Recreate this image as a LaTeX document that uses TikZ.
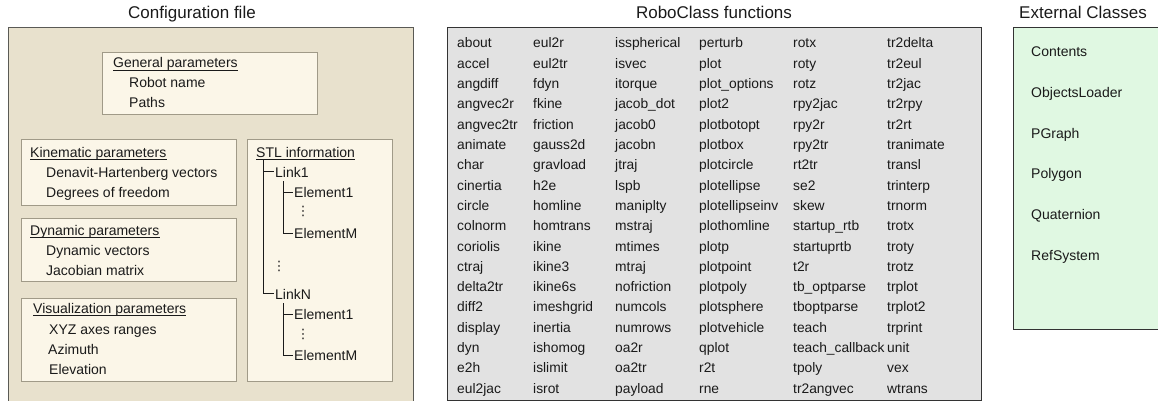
\documentclass[tikz,border=0pt]{standalone}
\usepackage{fontspec}
\setmainfont{Liberation Sans}
\newfontfamily\dejavu{DejaVu Sans}
\definecolor{cfgfill}{HTML}{E8E1CD}
\definecolor{cfgline}{HTML}{5A5A55}
\definecolor{inner}{HTML}{FBF6E8}
\definecolor{innerline}{HTML}{A09A88}
\definecolor{grayfill}{HTML}{E2E2E2}
\definecolor{grayline}{HTML}{333333}
\definecolor{greenfill}{HTML}{E0F8E2}
\definecolor{txt}{HTML}{1A1A1A}
\begin{document}
\begin{tikzpicture}[x=1pt,y=-1pt,
  every node/.style={text=txt},
  title/.style={font=\fontsize{17}{20}\selectfont, anchor=base},
  lbl/.style={font=\fontsize{14}{16}\selectfont, anchor=base west, inner sep=0pt},
  tlbl/.style={font=\fontsize{14}{16}\selectfont, anchor=base west, inner sep=1pt},
  fn/.style={font=\fontsize{13.8}{16}\selectfont, anchor=base west, inner sep=0pt},
  vd/.style={font=\dejavu\fontsize{13}{14}\selectfont, inner sep=0pt},
  panel/.style={draw, anchor=north west, inner sep=0pt},
  innerbox/.style={panel, draw=innerline, fill=inner, line width=0.9pt},
  tree/.style={draw=txt, line width=0.9pt},
  uline/.style={draw=txt, line width=0.8pt}]
\useasboundingbox (0,0) rectangle (1158,401);

% titles
\node[title] (t1) at (192,19) {Configuration file};
\node[title] (t2) at (714,19) {RoboClass functions};
\node[title] (t3) at (1083,19) {External Classes};

% outer panels
\node[panel, draw=cfgline, fill=cfgfill, line width=1.4pt, minimum width=405pt, minimum height=385pt] (cfg) at (8,27) {};
\node[panel, draw=grayline, fill=grayfill, line width=1.2pt, minimum width=534pt, minimum height=373pt] (rc) at (447,27) {};
\node[panel, draw=grayline, fill=greenfill, line width=1.2pt, minimum width=160pt, minimum height=302pt] (ec) at (1013,27) {};

% inner boxes
\node[innerbox, minimum width=215pt, minimum height=62pt] (gen) at (102,52) {};
\node[innerbox, minimum width=215pt, minimum height=66pt] (kin) at (21,139) {};
\node[innerbox, minimum width=215pt, minimum height=63pt] (dyn) at (21,218) {};
\node[innerbox, minimum width=215pt, minimum height=83pt] (vis) at (21,298) {};
\node[innerbox, minimum width=145pt, minimum height=242pt] (stl) at (247,139) {};

% general
\node[lbl] (genh) at (113,68) {General parameters};
\node[lbl] (gen1) at (129,88) {Robot name};
\node[lbl] (gen2) at (129,108) {Paths};
% kinematic
\node[lbl] (kinh) at (30,157) {Kinematic parameters};
\node[lbl] (kin1) at (46,177) {Denavit-Hartenberg vectors};
\node[lbl] (kin2) at (46,197) {Degrees of freedom};
% dynamic
\node[lbl] (dynh) at (30,235) {Dynamic parameters};
\node[lbl] (dyn1) at (46,255) {Dynamic vectors};
\node[lbl] (dyn2) at (46,275) {Jacobian matrix};
% visualization
\node[lbl] (vish) at (33,313) {Visualization parameters};
\node[lbl] (vis1) at (49,334) {XYZ axes ranges};
\node[lbl] (vis2) at (48,354) {Azimuth};
\node[lbl] (vis3) at (49,374) {Elevation};
% STL header
\node[lbl] (stlh) at (256,157) {STL information};

% header underlines
\foreach \h in {genh,kinh,dynh,vish,stlh}
  \draw[uline] ([yshift=-2.6pt]\h.base west) -- ([yshift=-2.6pt]\h.base east);

% STL tree
\node[tlbl] (l1) at (274,177) {Link1};
\node[tlbl] (l1e1) at (293,197) {Element1};
\node[vd] (l1d) at (303,211) {⋮};
\node[tlbl] (l1em) at (293,238) {ElementM};
\node[vd] (ld) at (279,266) {⋮};
\node[tlbl] (ln) at (274,299) {LinkN};
\node[tlbl] (lne1) at (293,319) {Element1};
\node[vd] (lnd) at (303,334) {⋮};
\node[tlbl] (lnem) at (293,360) {ElementM};
\coordinate (root) at (263,160);
\coordinate (r1) at (283,181);
\coordinate (rn) at (283,303);
\draw[tree] (root) |- (l1.west);
\draw[tree] (root) |- (ln.west);
\draw[tree] (r1) |- (l1e1.west);
\draw[tree] (r1) |- (l1em.west);
\draw[tree] (rn) |- (lne1.west);
\draw[tree] (rn) |- (lnem.west);

% RoboClass functions
\foreach \w [count=\r] in {about,accel,angdiff,angvec2r,angvec2tr,animate,char,cinertia,circle,colnorm,coriolis,ctraj,delta2tr,diff2,display,dyn,e2h,eul2jac}
  \node[fn] (fa\r) at (457,{48+(\r-1)*20.3}) {\w};
\foreach \w [count=\r] in {eul2r,eul2tr,fdyn,fkine,friction,gauss2d,gravload,h2e,homline,homtrans,ikine,ikine3,ikine6s,imeshgrid,inertia,ishomog,islimit,isrot}
  \node[fn] (fb\r) at (533,{48+(\r-1)*20.3}) {\w};
\foreach \w [count=\r] in {isspherical,isvec,itorque,jacob\_dot,jacob0,jacobn,jtraj,lspb,maniplty,mstraj,mtimes,mtraj,nofriction,numcols,numrows,oa2r,oa2tr,payload}
  \node[fn] (fc\r) at (615,{48+(\r-1)*20.3}) {\w};
\foreach \w [count=\r] in {perturb,plot,plot\_options,plot2,plotbotopt,plotbox,plotcircle,plotellipse,plotellipseinv,plothomline,plotp,plotpoint,plotpoly,plotsphere,plotvehicle,qplot,r2t,rne}
  \node[fn] (fd\r) at (699,{48+(\r-1)*20.3}) {\w};
\foreach \w [count=\r] in {rotx,roty,rotz,rpy2jac,rpy2r,rpy2tr,rt2tr,se2,skew,startup\_rtb,startuprtb,t2r,tb\_optparse,tboptparse,teach,teach\_callback,tpoly,tr2angvec}
  \node[fn] (fe\r) at (793,{48+(\r-1)*20.3}) {\w};
\foreach \w [count=\r] in {tr2delta,tr2eul,tr2jac,tr2rpy,tr2rt,tranimate,transl,trinterp,trnorm,trotx,troty,trotz,trplot,trplot2,trprint,unit,vex,wtrans}
  \node[fn] (ff\r) at (887,{48+(\r-1)*20.3}) {\w};

% External classes
\foreach \w [count=\r] in {Contents,ObjectsLoader,PGraph,Polygon,Quaternion,RefSystem}
  \node[lbl] (ex\r) at (1031,{57+(\r-1)*40.6}) {\w};
\end{tikzpicture}
\end{document}
